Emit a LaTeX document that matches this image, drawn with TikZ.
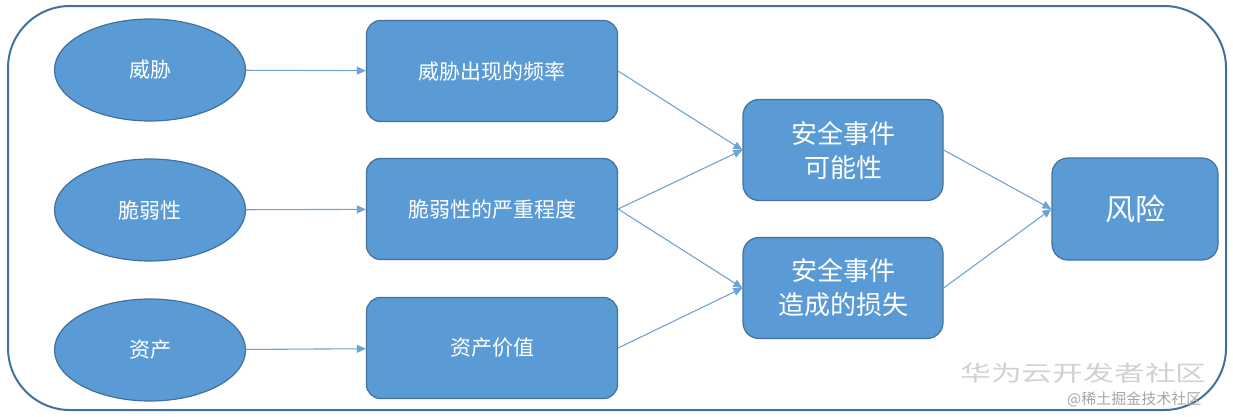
\documentclass[tikz,border=0pt]{standalone}
\usepackage{fontspec}
\setmainfont{Noto Sans CJK SC}
\usetikzlibrary{arrows.meta,shapes.geometric}
\definecolor{fillblue}{HTML}{5B9BD5}
\definecolor{edgeblue}{HTML}{41719C}
\definecolor{arrowblue}{HTML}{6FA3D6}
\tikzset{
  oval/.style={ellipse, draw=edgeblue, fill=fillblue, line width=1.2pt, minimum width=191pt, minimum height=102pt, inner sep=0pt, text=white, font=\fontsize{21}{24}\selectfont},
  boxa/.style={rectangle, rounded corners=14pt, draw=edgeblue, fill=fillblue, line width=1.2pt, minimum width=251pt, minimum height=101pt, inner sep=0pt, text=white, font=\fontsize{21}{24}\selectfont},
  boxb/.style={rectangle, rounded corners=16pt, draw=edgeblue, fill=fillblue, line width=1.2pt, minimum width=200pt, minimum height=101pt, inner sep=0pt, text=white, align=center, font=\fontsize{26}{34}\selectfont},
  boxc/.style={rectangle, rounded corners=16pt, draw=edgeblue, fill=fillblue, line width=1.2pt, minimum width=166pt, minimum height=102pt, inner sep=0pt, text=white, font=\fontsize{30}{34}\selectfont},
  conn/.style={draw=arrowblue, line width=1.1pt, -{Triangle[length=9pt,width=8pt]}},
  frame/.style={draw=edgeblue, line width=2pt, rounded corners=62pt},
  wm/.style={text=black!18, inner sep=0pt}
}
\begin{document}
\begin{tikzpicture}[x=1pt,y=-1pt]
\useasboundingbox (0,0) rectangle (1233,416);
\draw[frame] (8,6) rectangle (1226,410);
\node[oval] (t) at (150,70) {威胁};
\node[oval] (v) at (150,210) {脆弱性};
\node[oval] (a) at (150,350) {资产};
\node[boxa] (b1) at (492,71) {威胁出现的频率};
\node[boxa] (b2) at (492,209) {脆弱性的严重程度};
\node[boxa] (b3) at (492,348) {资产价值};
\node[boxb] (p) at (843,150) {安全事件\\可能性};
\node[boxb] (l) at (843,288) {安全事件\\造成的损失};
\node[boxc] (r) at (1135,209) {风险};
\draw[conn] (t) -- (b1);
\draw[conn] (v) -- (b2);
\draw[conn] (a) -- (b3);
\draw[conn] (b1.east) -- (p.west);
\draw[conn] (b2.east) -- (p.west);
\draw[conn] (b2.east) -- (l.west);
\draw[conn] (b3.east) -- (l.west);
\draw[conn] (p.east) -- (r.west);
\draw[conn] (l.east) -- (r.west);
\node[wm, font=\fontsize{22}{24}\selectfont, xscale=1.4, anchor=west] (w1) at (960,373) {华为云开发者社区};
\node[wm, text=black!35, font=\fontsize{15}{17}\selectfont, anchor=west] (w2) at (1067,399) {@稀土掘金技术社区};
\end{tikzpicture}
\end{document}
